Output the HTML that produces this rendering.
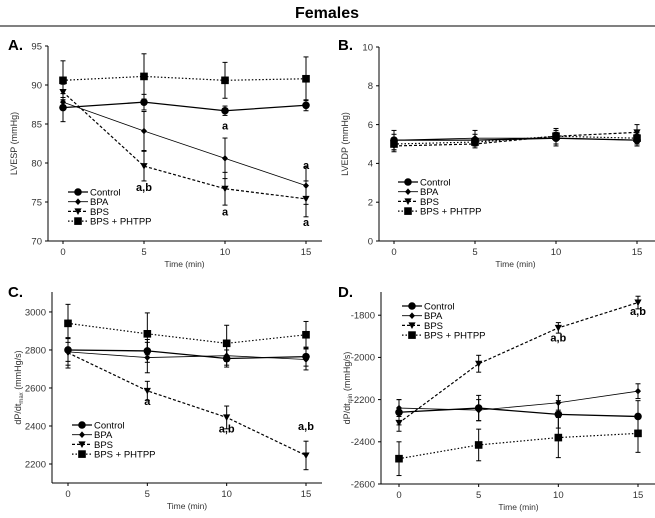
<!DOCTYPE html>
<html><head><meta charset="utf-8"><style>
body{margin:0;background:#fff;font-family:"Liberation Sans",sans-serif}
svg text{font-family:"Liberation Sans",sans-serif}
</style></head><body>
<svg id="fig" width="655" height="513" viewBox="0 0 655 513">
<text x="327" y="18" text-anchor="middle" font-size="16" font-weight="bold">Females</text>
<line x1="0" y1="26" x2="655" y2="26" stroke="#000" stroke-width="1"/>
</svg>
<script>
const times=[0,5,10,15];
const seriesNames=["Control","BPA","BPS","BPS + PHTPP"];
// Panel A
const aControl=[87.1,87.8,86.7,87.4], aControlErr=[1.8,1.0,0.6,0.7];
const aBPA=[87.8,84.1,80.6,77.1], aBPAErr=[0.6,2.5,2.6,2.4];
const aBPS=[89.1,79.6,76.7,75.4], aBPSErr=[1.0,1.9,2.1,2.3];
const aPHTPP=[90.6,91.1,90.6,90.8], aPHTPPErr=[2.5,2.9,2.3,2.8];
const aTicks=[70,75,80,85,90,95];
// Panel B
const bControl=[5.2,5.2,5.3,5.2], bControlErr=[0.3,0.3,0.3,0.3];
const bBPA=[5.2,5.3,5.3,5.2], bBPAErr=[0.5,0.4,0.4,0.3];
const bBPS=[4.9,5.0,5.4,5.6], bBPSErr=[0.3,0.2,0.4,0.4];
const bPHTPP=[5.0,5.1,5.4,5.3], bPHTPPErr=[0.3,0.2,0.4,0.3];
const bTicks=[0,2,4,6,8,10];
// Panel C
const cControl=[2800,2795,2755,2765], cControlErr=[60,60,45,50];
const cBPA=[2790,2760,2770,2750], cBPAErr=[70,80,50,55];
const cBPS=[2785,2585,2445,2245], cBPSErr=[80,50,60,75];
const cPHTPP=[2940,2885,2835,2880], cPHTPPErr=[100,110,95,70];
const cTicks=[2200,2400,2600,2800,3000];
// Panel D
const dControl=[-2260,-2240,-2270,-2280], dControlErr=[60,60,65,75];
const dBPA=[-2240,-2250,-2215,-2160], dBPAErr=[40,50,35,35];
const dBPS=[-2310,-2030,-1860,-1740], dBPSErr=[40,40,25,30];
const dPHTPP=[-2480,-2415,-2380,-2360], dPHTPPErr=[80,75,95,90];
const dTicks=[-2600,-2400,-2200,-2000,-1800];

const NS="http://www.w3.org/2000/svg";
const svg=document.getElementById('fig');
function mk(tag,attrs,parent){const e=document.createElementNS(NS,tag);for(const k in attrs)e.setAttribute(k,attrs[k]);(parent||svg).appendChild(e);return e;}
const dashes=["none","none","3,2","1.5,2"];
const widths=[1.3,0.8,1.2,1.2];

function panel(p){
  const g=mk('g',{});
  
  
  const sx=v=>p.x0+(v-0)/15*(p.x15-p.x0);
  const sy=v=>p.yb+(v-p.ymin)/(p.ymax-p.ymin)*(p.yt-p.yb);
  const ax=mk('line',{x1:p.ax,y1:p.yt,x2:p.ax,y2:p.yb,stroke:'#000','stroke-width':1},g);
  
  const bx=mk('line',{x1:p.ax,y1:p.yb,x2:p.xe,y2:p.yb,stroke:'#000','stroke-width':1},g);
  
  p.ticks.forEach(t=>{
    mk('line',{x1:p.ax-3,y1:sy(t),x2:p.ax,y2:sy(t),stroke:'#000'},g);
    const tx=mk('text',{x:p.ax-6,y:sy(t)+3.3,'text-anchor':'end','font-size':9.5,fill:'#333'},g);
    tx.textContent=t;
    
  });
  times.forEach(t=>{
    mk('line',{x1:sx(t),y1:p.yb,x2:sx(t),y2:p.yb+3,stroke:'#000'},g);
    const tx=mk('text',{x:sx(t),y:p.yb+14,'text-anchor':'middle','font-size':9.5,fill:'#333'},g);
    tx.textContent=t;
    
  });
  const xt=mk('text',{x:(p.x0+p.x15)/2,y:p.yb+26,'text-anchor':'middle','font-size':8.5,fill:'#333'},g);
  xt.textContent='Time (min)';
  
  const yt=mk('text',{x:0,y:0,'text-anchor':'middle','font-size':9,fill:'#333',transform:`translate(${p.ax-31},${(p.yt+p.yb)/2}) rotate(-90)`},g);
  yt.innerHTML=p.ylab;
  
  const lt=mk('text',{x:p.lx,y:p.ly,'font-size':15,'font-weight':'bold'},g);
  lt.textContent=p.id+'.';
  
  p.series.forEach((s,i)=>{
    const sg=mk('g',{},g);
    
    
    const pts=s.v.map((v,j)=>sx(times[j])+','+sy(v)).join(' ');
    mk('polyline',{points:pts,fill:'none',stroke:'#000','stroke-width':widths[i],'stroke-dasharray':dashes[i]},sg);
    s.v.forEach((v,j)=>{
      const x=sx(times[j]);
      mk('line',{x1:x,y1:sy(v-s.e[j]),x2:x,y2:sy(v+s.e[j]),stroke:'#000','stroke-width':1},sg);
      mk('line',{x1:x-2.5,y1:sy(v-s.e[j]),x2:x+2.5,y2:sy(v-s.e[j]),stroke:'#000'},sg);
      mk('line',{x1:x-2.5,y1:sy(v+s.e[j]),x2:x+2.5,y2:sy(v+s.e[j]),stroke:'#000'},sg);
      marker(sg,i,x,sy(v));
    });
  });
  p.notes.forEach(n=>{
    const t=mk('text',{x:sx(n[0]),y:sy(n[1]),'text-anchor':'middle','font-size':11,'font-weight':'bold'},g);
    t.textContent=n[2];
    
  });
  seriesNames.forEach((nm,i)=>{
    const y=p.legy+i*9.7;
    const lg=mk('g',{},g);
    
    mk('line',{x1:p.legx,y1:y,x2:p.legx+20,y2:y,stroke:'#000','stroke-width':widths[i],'stroke-dasharray':dashes[i]},lg);
    marker(lg,i,p.legx+10,y);
    const t=mk('text',{x:p.legx+22,y:y+3.5,'font-size':9.5},lg);
    t.textContent=nm;
  });
}
function marker(g,i,x,y){
  if(i===0)mk('circle',{cx:x,cy:y,r:3.8,fill:'#000'},g);
  else if(i===1)mk('polygon',{points:`${x},${y-3.3} ${x+3},${y} ${x},${y+3.3} ${x-3},${y}`,fill:'#000'},g);
  else if(i===2)mk('polygon',{points:`${x-3.6},${y-3} ${x+3.6},${y-3} ${x},${y+3.6}`,fill:'#000'},g);
  else mk('rect',{x:x-3.8,y:y-3.8,width:7.6,height:7.6,fill:'#000'},g);
}
panel({id:'A',ax:48,xe:322,x0:63,x15:306,yt:46,yb:241,ymin:70,ymax:95,ticks:aTicks,ylab:'LVESP (mmHg)',lx:8,ly:50,legx:68,legy:192,
 series:[{v:aControl,e:aControlErr},{v:aBPA,e:aBPAErr},{v:aBPS,e:aBPSErr},{v:aPHTPP,e:aPHTPPErr}],
 notes:[[10,84.3,'a'],[5,76.4,'a,b'],[10,73.3,'a'],[15,79.2,'a'],[15,71.9,'a']]});
panel({id:'B',ax:379,xe:655,x0:394,x15:637,yt:47,yb:241,ymin:0,ymax:10,ticks:bTicks,ylab:'LVEDP (mmHg)',lx:338,ly:50,legx:398,legy:182,
 series:[{v:bControl,e:bControlErr},{v:bBPA,e:bBPAErr},{v:bBPS,e:bBPSErr},{v:bPHTPP,e:bPHTPPErr}],notes:[]});
panel({id:'C',ax:52,xe:322,x0:68,x15:306,yt:292,yb:483,ymin:2100,ymax:3105,ticks:cTicks,ylab:'dP/dt<tspan font-size="6" dy="2">max</tspan><tspan dy="-2"> (mmHg/s)</tspan>',lx:8,ly:297,legx:72,legy:425,
 series:[{v:cControl,e:cControlErr},{v:cBPA,e:cBPAErr},{v:cBPS,e:cBPSErr},{v:cPHTPP,e:cPHTPPErr}],
 notes:[[5,2510,'a'],[10,2365,'a,b'],[15,2380,'a,b']]});
panel({id:'D',ax:381,xe:655,x0:399,x15:638,yt:292,yb:484,ymin:-2600,ymax:-1690,ticks:dTicks,ylab:'dP/dt<tspan font-size="6" dy="2">min</tspan><tspan dy="-2"> (mmHg/s)</tspan>',lx:338,ly:297,legx:402,legy:306,
 series:[{v:dControl,e:dControlErr},{v:dBPA,e:dBPAErr},{v:dBPS,e:dBPSErr},{v:dPHTPP,e:dPHTPPErr}],
 notes:[[10,-1925,'a,b'],[15,-1800,'a,b']]});
</script>
</body></html>
